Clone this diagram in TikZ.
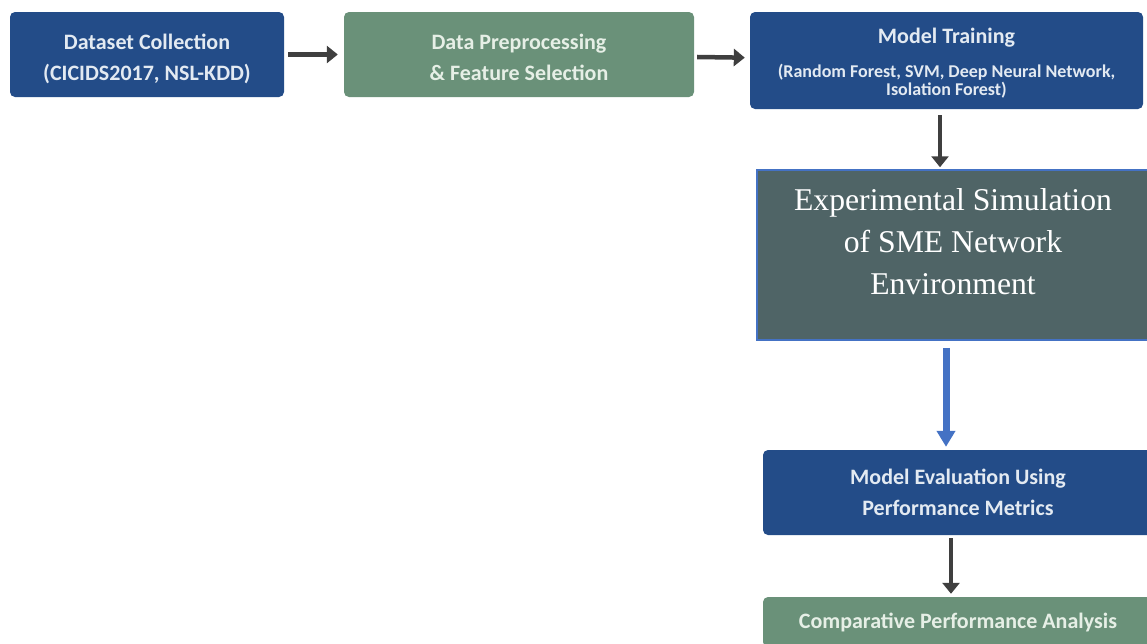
\documentclass[tikz,border=0pt]{standalone}
\usepackage{fontspec}
\usetikzlibrary{arrows.meta,positioning,calc}
\setmainfont{Liberation Serif}
\newfontfamily\labelfont{Carlito}
\definecolor{Navy}{HTML}{234C88}
\definecolor{Sage}{HTML}{6A9179}
\definecolor{Slate}{HTML}{4F6466}
\definecolor{SlateEdge}{HTML}{4472C4}
\definecolor{Pale}{HTML}{E3EAF2}
\definecolor{PaleGreen}{HTML}{E6EFE6}
\definecolor{Muted}{HTML}{3F3F3F}
\definecolor{FlowBlue}{HTML}{4472C4}

\begin{document}
\begin{tikzpicture}[
  x=1pt,y=-1pt,
  stage/.style={rounded corners=5pt,fill=Navy,text=Pale,align=center,inner sep=0pt,font=\labelfont\bfseries\fontsize{22}{31}\selectfont},
  prep/.style={rounded corners=5pt,fill=Sage,text=PaleGreen,align=center,inner sep=0pt,font=\labelfont\bfseries\fontsize{22}{31}\selectfont},
  simbox/.style={draw=SlateEdge,line width=1.5pt,fill=Slate,text=white,align=center,inner sep=0pt,font=\fontsize{31.7}{42}\selectfont},
  arrow/.style={-{Triangle[length=11pt,width=17pt]},line width=4.5pt,draw=Muted},
  bluearrow/.style={-{Triangle[length=16pt,width=18pt]},line width=7pt,draw=FlowBlue}
]
\useasboundingbox (0,0) rectangle (1147,643);
\node[stage,minimum width=274,minimum height=85,text height=56pt] (collect) at (147,54.5) {Dataset Collection\\(CICIDS2017, NSL-KDD)};
\node[prep,minimum width=350,minimum height=85,text height=53pt] (preproc) at (519,54.5) {Data Preprocessing\\\& Feature Selection};
\node[stage,minimum width=393,minimum height=97,text height=73pt] (train) at (946.5,60.5) {Model Training\\[3pt]\fontsize{18}{19}\selectfont (Random Forest, SVM, Deep Neural Network,\\[-13pt]\fontsize{18}{19}\selectfont Isolation Forest)};
\node[simbox,minimum width=392,minimum height=170,text depth=28pt] (simul) at (953,255) {Experimental Simulation\\of SME Network\\Environment};
\node[stage,minimum width=390,minimum height=85] (evaluate) at (958,492.5) {Model Evaluation Using\\Performance Metrics};
\node[prep,minimum width=390,minimum height=50] (compare) at (958,622) {Comparative Performance Analysis};
\draw[arrow,shorten <=4pt,shorten >=6pt] (collect) -- (preproc);
\draw[arrow,shorten <=3pt,shorten >=5pt] (preproc) -- (train);
\draw[arrow,shorten <=6pt,shorten >=2pt] ([xshift=-6.5pt]train.south) -- ([xshift=-6.5pt]train.south |- simul.north);
\draw[bluearrow,shorten <=7pt,shorten >=3pt] ([xshift=-7pt]simul.south) -- ([xshift=-7pt]simul.south |- evaluate.north);
\draw[arrow,shorten <=3pt,shorten >=3pt] ([xshift=-7pt]evaluate.south) -- ([xshift=-7pt]evaluate.south |- compare.north);
\end{tikzpicture}
\end{document}
